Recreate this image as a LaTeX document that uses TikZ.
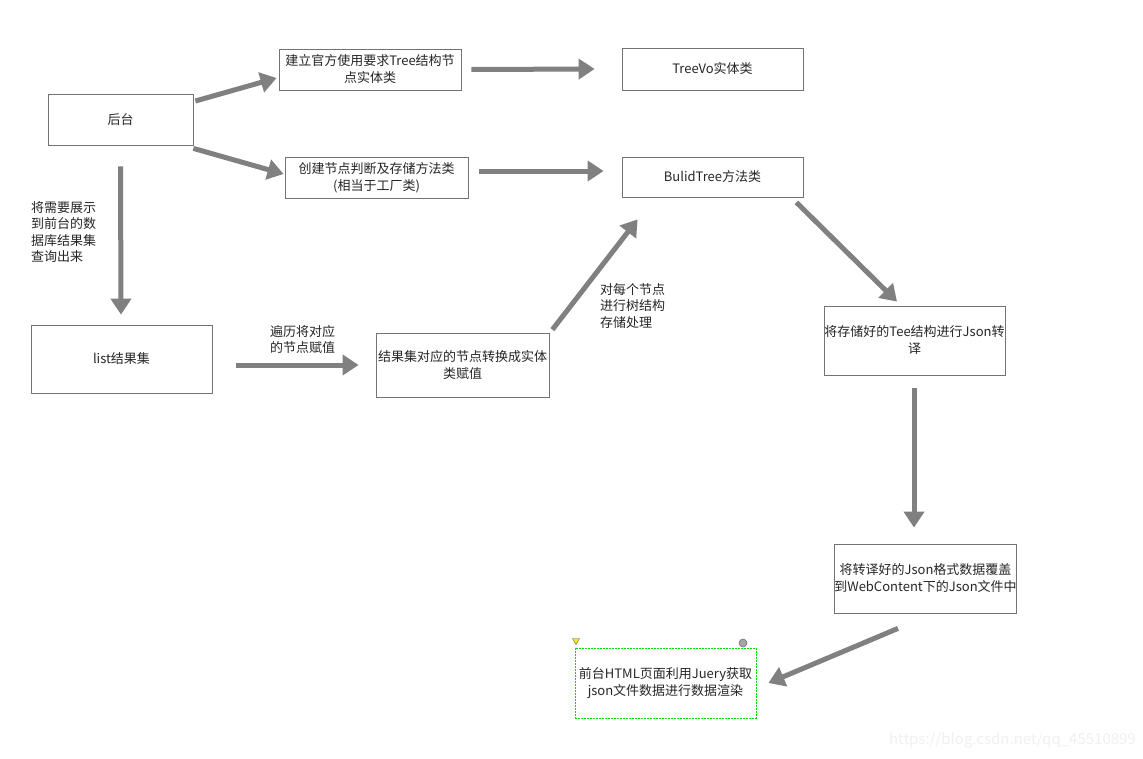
\documentclass[tikz,border=0pt]{standalone}
\usepackage{fontspec}
\setmainfont{Noto Sans CJK SC}
\usetikzlibrary{arrows.meta}

\begin{document}
\begin{tikzpicture}[x=1pt,y=-1pt,
  box/.style={draw=black!55,line width=0.8pt,inner sep=0pt,align=center,text=black!85,
    font=\fontsize{13}{17}\selectfont},
  note/.style={inner sep=0pt,align=left,anchor=north west,text=black!85,
    font=\fontsize{13}{16.5}\selectfont},
  flow/.style={draw=black!50,line width=5pt,-{Triangle[length=16pt,width=20pt]}}]
\useasboundingbox (0,0) rectangle (1143,758);
\fill[white] (0,0) rectangle (1143,758);

\node[box,minimum width=145pt,minimum height=51pt] (houtai) at (120.5,119.5) {后台};
\node[box,minimum width=182pt,minimum height=41pt] (jianli) at (370,69.5) {建立官方使用要求Tree结构节\\点实体类};
\node[box,minimum width=181pt,minimum height=42pt] (treevo) at (712.5,69) {TreeVo实体类};
\node[box,minimum width=183pt,minimum height=41pt] (chuangjian) at (376.5,177.5) {创建节点判断及存储方法类\\(相当于工厂类)};
\node[box,minimum width=181pt,minimum height=40pt] (bulid) at (712.5,177) {BulidTree方法类};
\node[box,minimum width=181pt,minimum height=68pt] (listjg) at (121.5,359) {list结果集};
\node[box,minimum width=173pt,minimum height=64pt] (jieguo) at (462.5,365) {结果集对应的节点转换成实体\\类赋值};
\node[box,minimum width=181pt,minimum height=69pt] (cunchu) at (914.5,340.5) {将存储好的Tee结构进行Json转\\译};
\node[box,minimum width=181pt,minimum height=69pt] (zhuanyi) at (925.5,578.5) {将转译好的Json格式数据覆盖\\到WebContent下的Json文件中};
\node[box,draw=green!85!black,dash pattern=on 2pt off 1pt,minimum width=181pt,minimum height=70pt] (qiantai) at (665.5,683) {前台HTML页面利用Juery获取\\json文件数据进行数据渲染};

% selection handles
\fill[yellow!90!orange,draw=black!60,line width=0.4pt] (572.5,638.5) -- (579.5,638.5) -- (576,644.5) -- cycle;
\filldraw[fill=black!35,draw=black!60,line width=0.5pt] (743,643) circle (4);

\node[note] (zhanshi) at (31,201) {将需要展示\\到前台的数\\据库结果集\\查询出来};
\node[note] (bianli) at (270,325) {遍历将对应\\的节点赋值};
\node[note] (duimei) at (600,283) {对每个节点\\进行树结构\\存储处理};

\draw[flow] ([xshift=2pt,yshift=18.5pt]houtai.east) -- ([xshift=-2pt,yshift=-8.5pt]jianli.west);
\draw[flow] ([yshift=-3pt]houtai.south east) -- ([xshift=-1pt,yshift=3.5pt]chuangjian.west);
\draw[flow] ([xshift=10pt]jianli.east) -- ([xshift=-27pt]treevo.west);
\draw[flow] ([xshift=11pt,yshift=6.5pt]chuangjian.east) -- ([xshift=-18pt,yshift=6pt]bulid.west);
\draw[flow] ([yshift=-21pt]houtai.south) -- ([xshift=-0.5pt,yshift=10pt]listjg.north);
\draw[flow] ([xshift=24pt,yshift=-6pt]listjg.east) -- ([xshift=-17pt]jieguo.west);
\draw[flow] ([xshift=3pt,yshift=3pt]jieguo.north east) -- ([xshift=16pt,yshift=-22pt]bulid.south west);
\draw[flow] ([xshift=-7pt,yshift=-5pt]bulid.south east) -- ([xshift=-17.5pt,yshift=4pt]cunchu.north);
\draw[flow] ([xshift=-0.5pt,yshift=-13pt]cunchu.south) -- ([xshift=-11.5pt,yshift=16pt]zhuanyi.north);
\draw[flow] ([xshift=-27.5pt,yshift=-15pt]zhuanyi.south) -- ([xshift=12pt]qiantai.east);

\node[anchor=east,inner sep=0pt,text=black!6,font=\fontsize{15}{15}\selectfont] (shuiyin) at (1136,740) {https://blog.csdn.net/qq\_45510899};
\end{tikzpicture}
\end{document}
